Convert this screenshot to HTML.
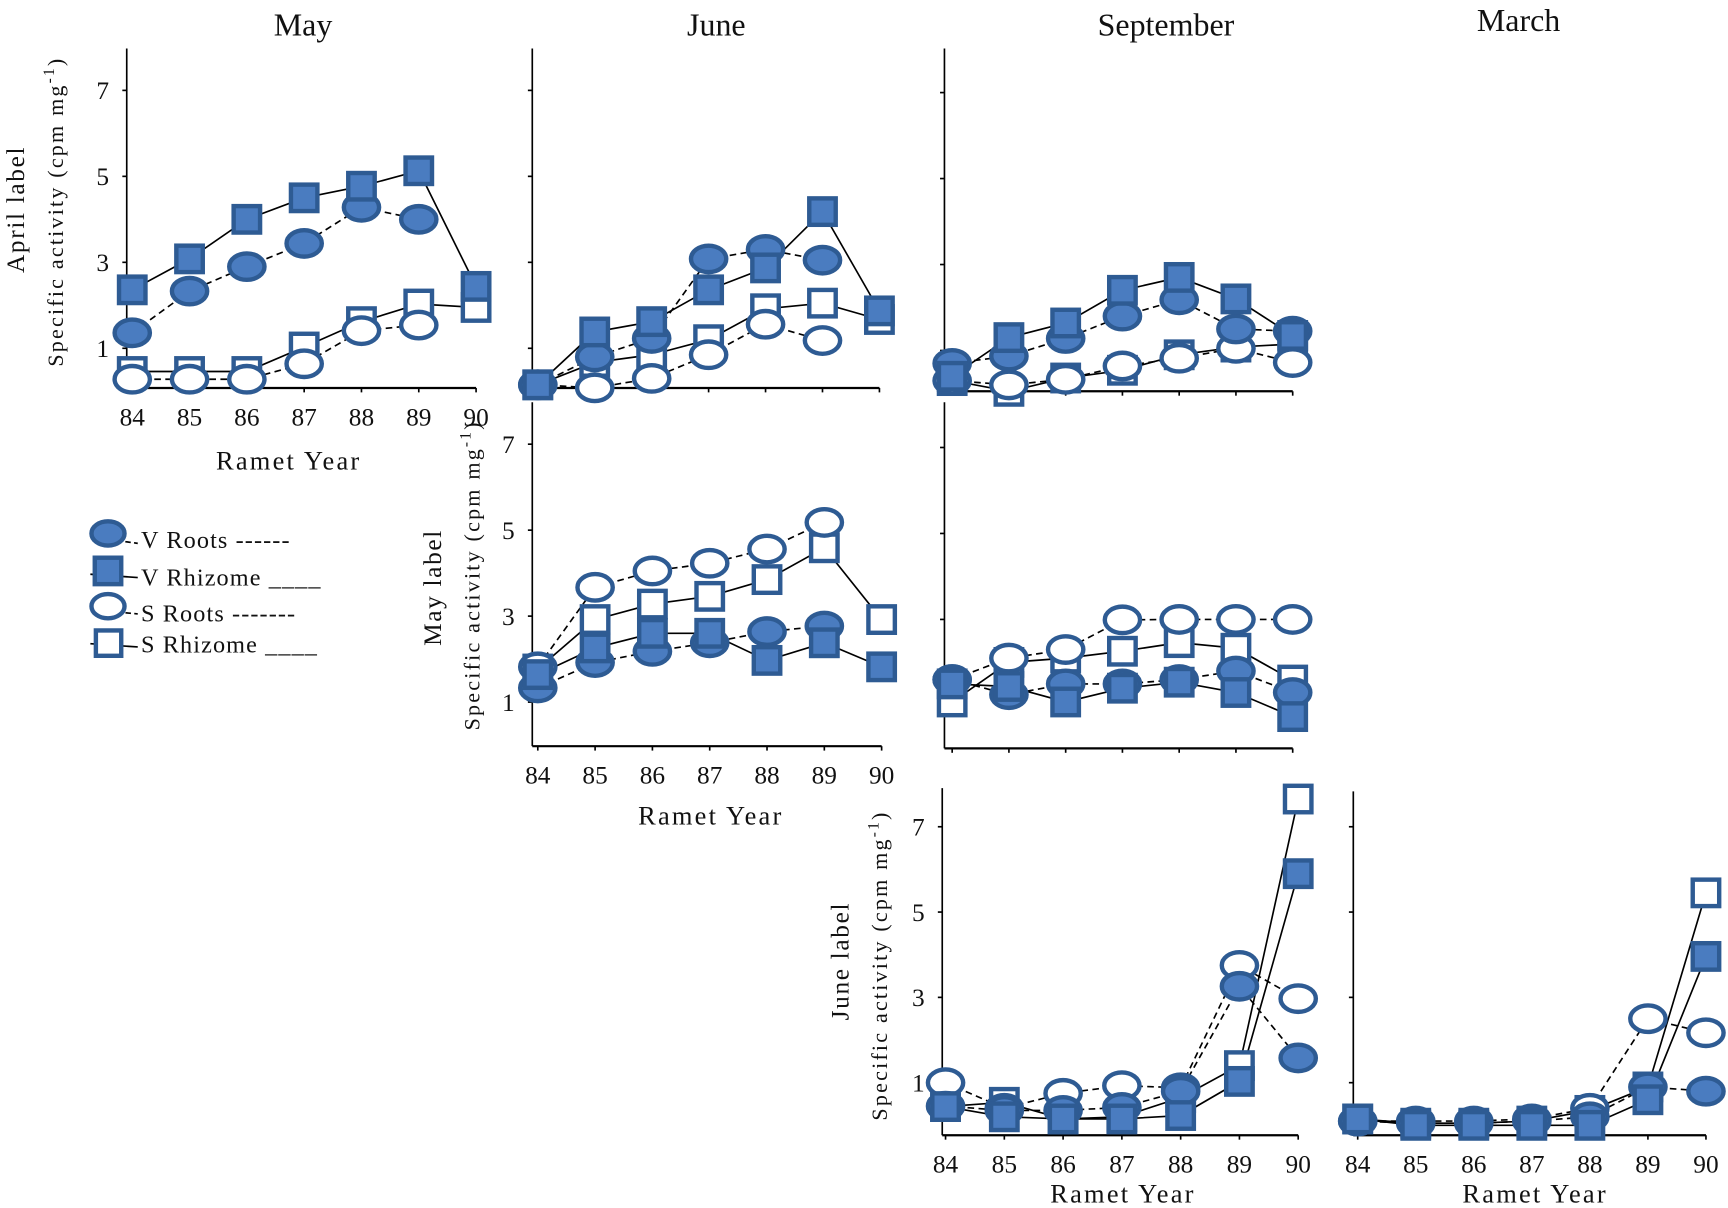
<!DOCTYPE html>
<html><head><meta charset="utf-8"><style>
html,body{margin:0;padding:0;background:#fff}
svg{display:block}
text{font-family:"Liberation Serif",serif;fill:#111}
</style></head><body>
<svg id="chart" width="1728" height="1208" viewBox="0 0 1568 1096" preserveAspectRatio="none" xmlns="http://www.w3.org/2000/svg">
<g font-size="29">
<text x="275" y="32" text-anchor="middle">May</text>
<text x="650" y="32" text-anchor="middle">June</text>
<text x="1058" y="32" text-anchor="middle">September</text>
<text x="1378" y="28" text-anchor="middle">March</text>
</g>
<g font-size="23">
<text transform="translate(22,190) rotate(-90)" text-anchor="middle" letter-spacing="1.5">April label</text>
<text transform="translate(57,192) rotate(-90)" text-anchor="middle" font-size="20" letter-spacing="2">Specific activity (cpm mg<tspan dy="-8" font-size="14">-1</tspan><tspan dy="8">)</tspan></text>
<text transform="translate(400,533) rotate(-90)" text-anchor="middle" letter-spacing="1.5">May label</text>
<text transform="translate(435,522) rotate(-90)" text-anchor="middle" font-size="20" letter-spacing="2">Specific activity (cpm mg<tspan dy="-8" font-size="14">-1</tspan><tspan dy="8">)</tspan></text>
<text transform="translate(770,872) rotate(-90)" text-anchor="middle" letter-spacing="1.5">June label</text>
<text transform="translate(805,876) rotate(-90)" text-anchor="middle" font-size="20" letter-spacing="2">Specific activity (cpm mg<tspan dy="-8" font-size="14">-1</tspan><tspan dy="8">)</tspan></text>
</g>
<g font-size="24" letter-spacing="2">
<text x="262" y="426" text-anchor="middle">Ramet Year</text>
<text x="645" y="748" text-anchor="middle">Ramet Year</text>
<text x="1019" y="1091" text-anchor="middle">Ramet Year</text>
<text x="1393" y="1091" text-anchor="middle">Ramet Year</text>
</g>
<g id="panels"></g>
<g font-size="22" letter-spacing="1">
<g><line x1="82" y1="487" x2="125" y2="493" stroke="#000" stroke-dasharray="5,3" stroke-width="1.5"/><ellipse cx="98" cy="484" rx="15" ry="11" fill="#4a7cc0" stroke="#2e5b93" stroke-width="4"/><text x="128" y="497">V Roots ------</text></g>
<g><line x1="82" y1="521" x2="125" y2="524" stroke="#000" stroke-width="1.5"/><rect x="86" y="506" width="24" height="24" fill="#4a7cc0" stroke="#2e5b93" stroke-width="4"/><text x="128" y="531">V Rhizome ____</text></g>
<g><line x1="82" y1="553" x2="125" y2="557" stroke="#000" stroke-dasharray="5,3" stroke-width="1.5"/><ellipse cx="98" cy="550" rx="15" ry="11" fill="#fff" stroke="#2e5b93" stroke-width="4"/><text x="128" y="564">S Roots -------</text></g>
<g><line x1="82" y1="584" x2="125" y2="587" stroke="#000" stroke-width="1.5"/><rect x="87" y="572" width="23" height="23" fill="#fff" stroke="#2e5b93" stroke-width="4"/><text x="128" y="592">S Rhizome ____</text></g>
</g>
</svg>
<script>
const years = ["84","85","86","87","88","89","90"];
const yTickLabels = ["1","3","5","7"];
const yTickValues = [1,3,5,7];
// April label – May
const aprMayVRoots = [1.36,2.33,2.9,3.44,4.28,4.0,null];
const aprMayVRhizome = [2.36,3.08,4.0,4.5,4.77,5.13,2.44];
const aprMaySRoots = [0.28,0.28,0.28,0.64,1.41,1.54,null];
const aprMaySRhizome = [0.46,0.46,0.46,1.03,1.62,2.03,1.95];
// April label – June
const aprJunVRoots = [0.15,0.8,1.23,3.08,3.3,3.05,null];
const aprJunVRhizome = [0.15,1.38,1.62,2.36,2.87,4.18,1.87];
const aprJunSRoots = [0.15,0.08,0.3,0.85,1.56,1.18,null];
const aprJunSRhizome = [0.15,0.67,0.85,1.2,1.92,2.05,1.67];
// April label – September
const aprSepVRoots = [0.7,0.87,1.28,1.8,2.18,1.5,1.45];
const aprSepVRhizome = [0.4,1.3,1.64,2.4,2.7,2.2,1.35];
const aprSepSRoots = [0.3,0.2,0.33,0.64,0.82,1.05,0.72];
const aprSepSRhizome = [0.3,0.05,0.36,0.54,0.9,1.08,1.15];
// May label – June
const mayJunVRoots = [1.33,1.92,2.18,2.38,2.64,2.77,null];
const mayJunVRhizome = [1.64,2.26,2.6,2.6,1.97,2.38,1.82];
const mayJunSRoots = [1.82,3.67,4.05,4.23,4.56,5.18,null];
const mayJunSRhizome = [1.77,2.92,3.28,3.46,3.85,4.59,2.92];
// May label – September
const maySepVRoots = [1.6,1.25,1.5,1.5,1.6,1.8,1.3];
const maySepVRhizome = [1.5,1.44,1.08,1.4,1.54,1.3,0.74];
const maySepSRoots = [1.6,2.1,2.3,2.99,3.0,3.0,3.0];
const maySepSRhizome = [1.08,2.0,2.1,2.26,2.46,2.33,1.59];
// June label – September
const junSepVRoots = [0.45,0.35,0.35,0.42,0.8,3.26,1.58];
const junSepVRhizome = [0.44,0.2,0.15,0.15,0.23,1.03,5.9];
const junSepSRoots = [1.0,0.4,0.75,0.93,0.88,3.75,2.97];
const junSepSRhizome = [0.44,0.54,0.15,0.2,0.65,1.4,7.65];
// June label – March
const junMarVRoots = [0.1,0.05,0.05,0.1,0.2,0.9,0.8];
const junMarVRhizome = [0.15,0,0,0,0,0.6,3.96];
const junMarSRoots = [0.1,0.1,0.1,0.15,0.4,2.5,2.17];
const junMarSRhizome = [0.15,0.05,0.05,0.1,0.35,0.9,5.45];

const NS = "http://www.w3.org/2000/svg";
const root = document.getElementById("panels");
function mk(tag, attrs, parent){ const e=document.createElementNS(NS,tag); for(const k in attrs) e.setAttribute(k,attrs[k]); parent.appendChild(e); return e; }

const panels = [
 {name:"april-may", ax:115, top:44, bot:352, x0:120, x1:432, y0:355, unit:39, labels:true, ylabels:true, series:[aprMaySRhizome,aprMaySRoots,aprMayVRoots,aprMayVRhizome]},
 {name:"april-june", ax:483, top:44, bot:352, x0:488, x1:798, y0:355, unit:39, labels:false, ylabels:false, series:[aprJunSRhizome,aprJunSRoots,aprJunVRoots,aprJunVRhizome]},
 {name:"april-september", ax:857, top:44, bot:355, x0:864, x1:1173, y0:357, unit:39, labels:false, ylabels:false, series:[aprSepSRhizome,aprSepSRoots,aprSepVRoots,aprSepVRhizome]},
 {name:"may-june", ax:483, top:365, bot:677, x0:488, x1:800, y0:676, unit:39, labels:true, ylabels:true, series:[mayJunSRhizome,mayJunSRoots,mayJunVRoots,mayJunVRhizome]},
 {name:"may-september", ax:857, top:365, bot:679, x0:864, x1:1173, y0:679, unit:39, labels:false, ylabels:false, series:[maySepSRhizome,maySepSRoots,maySepVRoots,maySepVRhizome]},
 {name:"june-september", ax:855, top:715, bot:1030, x0:858, x1:1178, y0:1021, unit:38.7, labels:true, ylabels:true, series:[junSepSRhizome,junSepSRoots,junSepVRoots,junSepVRhizome]},
 {name:"june-march", ax:1228, top:718, bot:1030, x0:1232, x1:1548, y0:1021, unit:38.7, labels:true, ylabels:false, series:[junMarSRhizome,junMarSRoots,junMarVRoots,junMarVRhizome]}
];
const kinds = [
 {n:"s-rhizome", shape:"rect", fill:"#fff", dash:null},
 {n:"s-roots", shape:"ell", fill:"#fff", dash:"6,4"},
 {n:"v-roots", shape:"ell", fill:"#4a7cc0", dash:"6,4"},
 {n:"v-rhizome", shape:"rect", fill:"#4a7cc0", dash:null}
];
panels.forEach(p=>{
  const g = mk("g",{},root);
  
  
  const step = (p.x1-p.x0)/(years.length-1);
  const xs = i => p.x0 + i*step;
  const ys = v => p.y0 - v*p.unit;
  const ya = mk("line",{x1:p.ax,y1:p.top,x2:p.ax,y2:p.bot,stroke:"#000","stroke-width":1.5},g);
  
  
  const xa = mk("line",{x1:p.ax,y1:p.bot,x2:p.x1,y2:p.bot,stroke:"#000","stroke-width":2},g);
  
  
  yTickValues.forEach((v,i)=>{
    mk("line",{x1:p.ax-4,y1:ys(v),x2:p.ax,y2:ys(v),stroke:"#000","stroke-width":1.5},g);
    if(p.ylabels){ const t=mk("text",{x:p.ax-16,y:ys(v)+8,"text-anchor":"end","font-size":23},g); t.textContent=yTickLabels[i];
      
       }
  });
  years.forEach((y,i)=>{
    mk("line",{x1:xs(i),y1:p.bot,x2:xs(i),y2:p.bot+4,stroke:"#000","stroke-width":1.5},g);
    if(p.labels){ const t=mk("text",{x:xs(i),y:p.bot+34,"text-anchor":"middle","font-size":23},g); t.textContent=y;
      
       }
  });
  p.series.forEach((arr,si)=>{
    const k = kinds[si];
    const sg = mk("g",{},g);
    
    
    const pts=[]; arr.forEach((v,i)=>{ if(v!==null) pts.push(xs(i)+","+ys(v)); });
    const pl = mk("polyline",{points:pts.join(" "),fill:"none",stroke:"#000","stroke-width":1.5},sg);
    if(k.dash) pl.setAttribute("stroke-dasharray",k.dash);
    
    
  });
  p.series.forEach((arr,si)=>{
    const k = kinds[si];
    arr.forEach((v,i)=>{
      if(v===null) return;
      let m;
      if(k.shape==="rect") m = mk("rect",{x:xs(i)-12,y:ys(v)-12,width:24,height:24,fill:k.fill,stroke:"#2e5b93","stroke-width":4},g);
      else m = mk("ellipse",{cx:xs(i),cy:ys(v),rx:16,ry:12,fill:k.fill,stroke:"#2e5b93","stroke-width":4},g);
      
      
    });
  });
});
</script>
</body></html>
